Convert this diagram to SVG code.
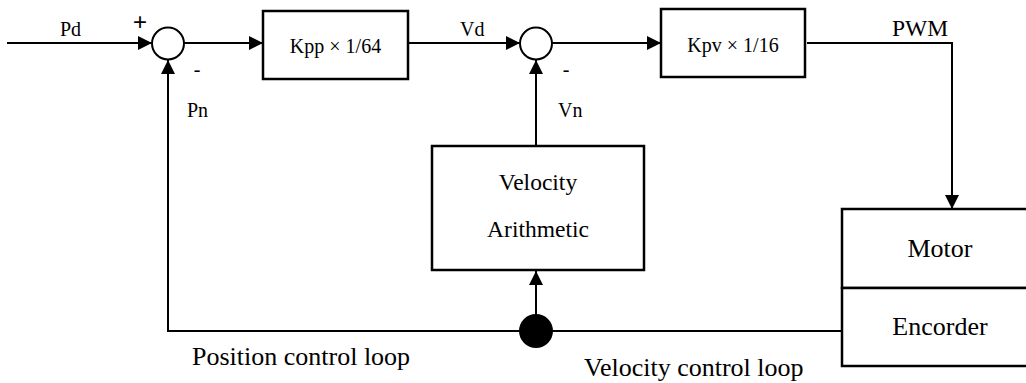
<svg xmlns="http://www.w3.org/2000/svg" width="1026" height="383" viewBox="0 0 1026 383">
<style>
.ln{fill:none;stroke:#000;stroke-width:2}
.bx{fill:#fff;stroke:#000;stroke-width:2.5}
.sum{fill:#fff;stroke:#000;stroke-width:2}
text{font-family:'Liberation Serif','Times New Roman',serif;fill:#000}
.s{font-size:20px}
.m{font-size:23.5px}
.l{font-size:26px}
</style>
<defs>
<marker id="ah" viewBox="0 0 14 14" refX="14" refY="7" markerWidth="14" markerHeight="14" markerUnits="userSpaceOnUse" orient="auto">
<path d="M0,0 L14,7 L0,14 Z" fill="#000"/>
</marker>
</defs>
<g id="connectors">
<line class="ln" x1="7" y1="43" x2="152" y2="43" marker-end="url(#ah)"/>
<line class="ln" x1="184" y1="43" x2="263" y2="43" marker-end="url(#ah)"/>
<line class="ln" x1="408" y1="43" x2="520" y2="43" marker-end="url(#ah)"/>
<line class="ln" x1="552" y1="43" x2="661" y2="43" marker-end="url(#ah)"/>
<polyline class="ln" points="807,43 952,43 952,209" marker-end="url(#ah)"/>
<polyline class="ln" points="841,331 168,331 168,60" marker-end="url(#ah)"/>
<line class="ln" x1="536" y1="146" x2="536" y2="60" marker-end="url(#ah)"/>
<line class="ln" x1="536" y1="331" x2="536" y2="271" marker-end="url(#ah)"/>
</g>
<g id="sum1"><circle class="sum" cx="168" cy="43.5" r="16"/></g>
<g id="sum2"><circle class="sum" cx="536" cy="43.5" r="16"/></g>
<g id="kpp"><rect class="bx" x="263" y="11" width="145" height="68"/><text class="s" x="335.5" y="53" text-anchor="middle">Kpp × 1/64</text></g>
<g id="kpv"><rect class="bx" x="661" y="9" width="144" height="68"/><text class="s" x="733" y="52" text-anchor="middle">Kpv × 1/16</text></g>
<g id="velocity"><rect class="bx" x="432" y="146" width="212" height="124"/><text class="m" x="538" y="190" text-anchor="middle">Velocity</text><text class="m" x="538" y="237" text-anchor="middle">Arithmetic</text></g>
<g id="motor"><rect class="bx" x="842" y="209" width="190" height="79"/><text class="l" x="940" y="257" text-anchor="middle">Motor</text></g>
<g id="encoder"><rect class="bx" x="842" y="288" width="190" height="78"/><text class="l" x="940" y="335" text-anchor="middle">Encorder</text></g>
<g id="junction"><circle cx="536" cy="331" r="17" fill="#000"/></g>
<g id="labels">
<text class="s" x="60" y="36">Pd</text>
<text x="140" y="30" text-anchor="middle" font-size="24" style="font-family:'Liberation Sans',sans-serif">+</text>
<text class="s" x="197" y="76" text-anchor="middle">-</text>
<text class="s" x="187" y="117">Pn</text>
<text class="s" x="460" y="36">Vd</text>
<text class="s" x="566" y="76" text-anchor="middle">-</text>
<text class="s" x="558" y="117">Vn</text>
<text class="m" x="892" y="36">PWM</text>
<text class="l" x="192" y="365">Position control loop</text>
<text class="l" x="584" y="376">Velocity control loop</text>
</g>
</svg>
